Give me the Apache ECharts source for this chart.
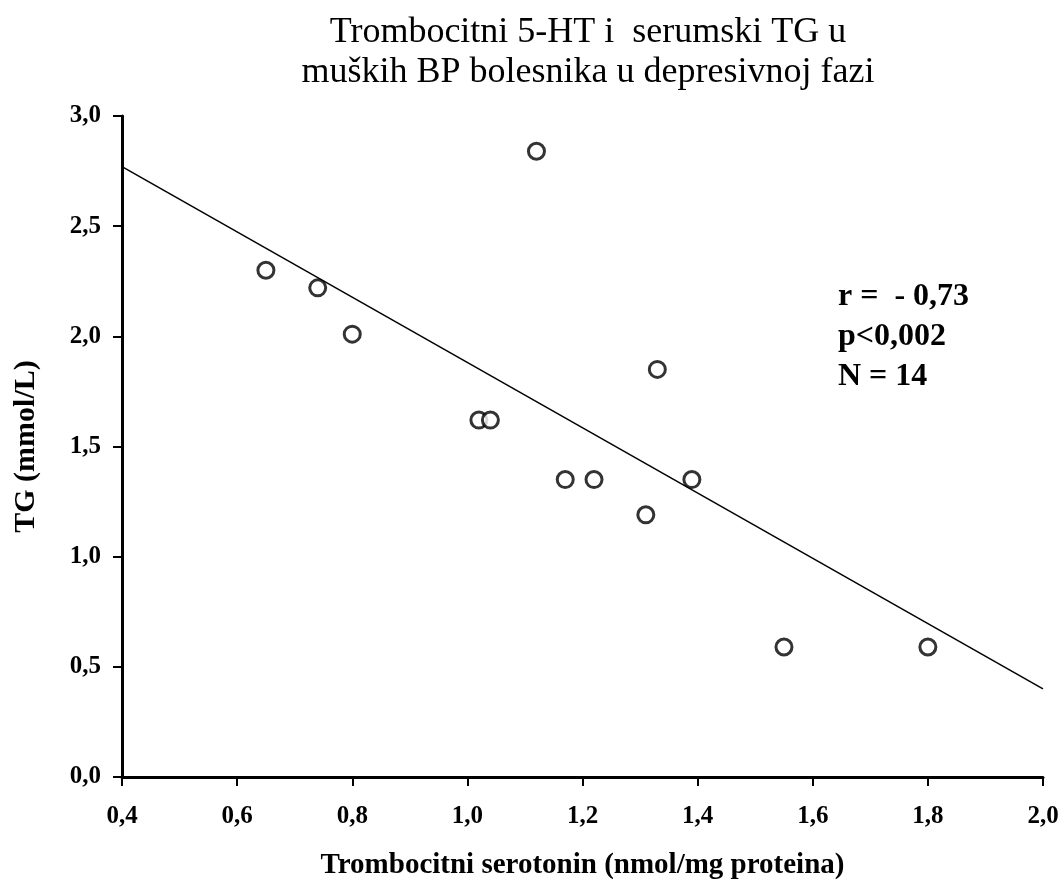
<!DOCTYPE html>
<html>
<head>
<meta charset="utf-8">
<script src="https://cdn.jsdelivr.net/npm/echarts@6/dist/echarts.min.js"></script>
<style>
  html, body { margin: 0; padding: 0; background: #fff; }
  #chart { width: 1064px; height: 890px; }
</style>
</head>
<body>
<div id="chart"></div>
<script>
  // tacke (serotonin, TG)
  const serotonin = [0.65, 0.74, 0.80, 1.02, 1.04, 1.12, 1.17, 1.22, 1.31, 1.33, 1.39, 1.55, 1.80]
  const tg = [2.30, 2.22, 2.01, 1.62, 1.62, 2.84, 1.35, 1.35, 1.19, 1.85, 1.35, 0.59, 0.59]
  // regresijska linija
  const lineX = [0.4, 2.0]
  const lineY = [2.77, 0.40]
  const statsText = ['r =  - 0,73', 'p<0,002', 'N = 14']

  const fmt = v => v.toFixed(1).replace('.', ',')
  const serif = '"Liberation Serif", "Times New Roman", serif'

  const chart = echarts.init(document.getElementById('chart'))
  const option = {
    animation: false,
    title: {
      text: 'Trombocitni 5-HT i  serumski TG u\nmuških BP bolesnika u depresivnoj fazi',
      left: 583,
      textAlign: 'center',
      top: 8,
      textStyle: {
        fontFamily: serif,
        fontSize: 36,
        fontWeight: 'normal',
        lineHeight: 40,
        color: '#000',
      },
    },
    grid: { left: 122, right: 21, top: 116, bottom: 113 },
    xAxis: {
      type: 'value',
      min: 0.4,
      max: 2.0,
      interval: 0.2,
      name: 'Trombocitni serotonin (nmol/mg proteina)',
      nameLocation: 'middle',
      nameGap: 74,
      nameTextStyle: { fontFamily: serif, fontSize: 29, fontWeight: 'bold', color: '#000' },
      axisLine: { lineStyle: { color: '#000', width: 3 } },
      axisTick: { length: 9, lineStyle: { color: '#000', width: 2 } },
      axisLabel: { formatter: fmt, fontFamily: serif, fontSize: 25, fontWeight: 'bold', color: '#000', margin: 27 },
      splitLine: { show: false },
    },
    yAxis: {
      type: 'value',
      min: 0,
      max: 3.0,
      interval: 0.5,
      name: 'TG (mmol/L)',
      nameLocation: 'middle',
      nameGap: 81,
      nameTextStyle: { fontFamily: serif, fontSize: 30, fontWeight: 'bold', color: '#000' },
      axisLine: { show: true, lineStyle: { color: '#000', width: 3 } },
      axisTick: { show: true, length: 9, lineStyle: { color: '#000', width: 2 } },
      axisLabel: { formatter: fmt, fontFamily: serif, fontSize: 25, fontWeight: 'bold', color: '#000', margin: 21 },
      splitLine: { show: false },
    },
    graphic: statsText.map((t, i) => ({
      type: 'text',
      left: 838,
      top: 281 + i * 40,
      style: { text: t, font: 'bold 32px ' + serif, fill: '#000' },
    })),
    series: [
      {
        type: 'line',
        data: lineX.map((x, i) => [x, lineY[i]]),
        showSymbol: false,
        lineStyle: { color: '#000', width: 1.5 },
        z: 1,
      },
      {
        type: 'scatter',
        data: serotonin.map((x, i) => [x, tg[i]]),
        symbol: 'circle',
        symbolSize: 16,
        itemStyle: { color: '#fff', borderColor: '#000', borderWidth: 3 },
        z: 3,
      },
    ],
  }
  chart.setOption(option)
</script>
</body>
</html>
